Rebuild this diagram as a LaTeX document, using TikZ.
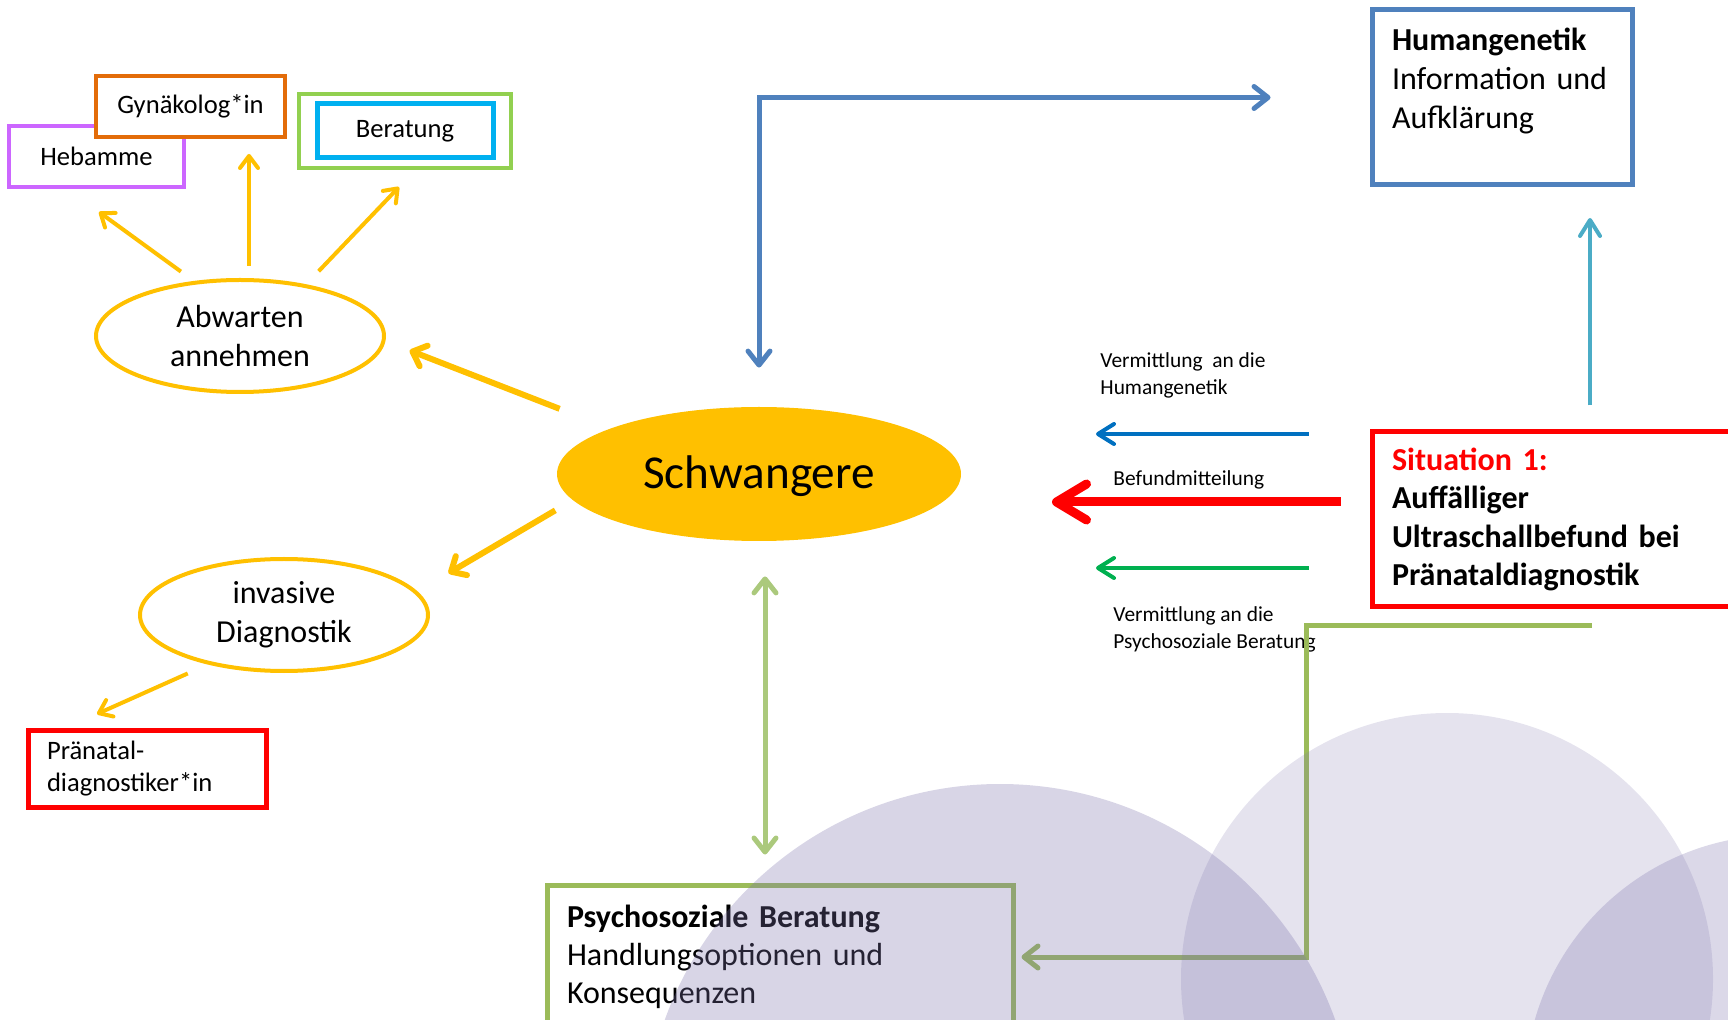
\documentclass[tikz,border=0pt]{standalone}
\usepackage{fontspec}
\setmainfont{Carlito}
\usetikzlibrary{arrows.meta,shapes.geometric}

\definecolor{gold}{HTML}{FFC000}
\definecolor{hebpurple}{HTML}{CC66FF}
\definecolor{gynorange}{HTML}{E36C09}
\definecolor{bergreen}{HTML}{92D050}
\definecolor{berblue}{HTML}{00B0F0}
\definecolor{pdred}{HTML}{FF0000}
\definecolor{humblue}{HTML}{4F81BD}
\definecolor{upteal}{HTML}{4BACC6}
\definecolor{vblue}{HTML}{0070C0}
\definecolor{vgreen}{HTML}{00B050}
\definecolor{olive}{HTML}{9BBB59}
\definecolor{lightolive}{HTML}{ABC97C}
\definecolor{lav}{RGB}{125,115,172}

\begin{document}
\begin{tikzpicture}[x=0.5pt, y=-0.5pt,
    smallbox/.style={draw, rectangle, fill=white, line width=2pt, font=\fontsize{13.3}{16}\selectfont},
    bigbox/.style={draw, rectangle, line width=2.5pt, align=left, inner xsep=10pt, inner ysep=0pt,
        font=\fontsize{16}{19.5}\selectfont},
    oval/.style={draw=gold, ellipse, line width=2pt, align=center, inner sep=0pt,
        minimum width=144pt, minimum height=56pt, font=\fontsize{16}{19.3}\selectfont},
    lbl/.style={anchor=west, align=left, inner sep=0pt, font=\fontsize{10.7}{13.5}\selectfont},
    yarr/.style={draw=gold, line width=2pt, -{Straight Barb[length=6pt, width=9pt, round]}},
    yarrb/.style={draw=gold, line width=3pt, -{Straight Barb[length=6pt, width=11pt, round]}},
    harr/.style={line width=2pt, -{Straight Barb[length=8pt, width=10pt, round]}},
    ]

    \useasboundingbox (0,0) rectangle (1728,1020);

    % draw nodes
    \node [smallbox, draw=hebpurple, minimum width=87.5pt, minimum height=30.5pt]
        (heb) at (96.5,156.5) {Hebamme};
    \node [smallbox, draw=gynorange, minimum width=94.5pt, minimum height=30.5pt]
        (gyn) at (190.5,106.5) {Gynäkolog*in};
    \node [smallbox, draw=bergreen, minimum width=106pt, minimum height=37pt]
        (berout) at (405,131) {};
    \node [smallbox, draw=berblue, line width=2.5pt, minimum width=88pt, minimum height=27pt]
        (ber) at (405,131) {Beratung};
    \node [oval] (abw) at (240,336) {Abwarten\\annehmen};
    \node [oval] (inv) at (284,615) {invasive\\Diagnostik};
    \node [ellipse, fill=gold, minimum width=202pt, minimum height=67pt, inner sep=0pt,
        text height=19pt, text depth=4.7pt,
        font=\fontsize{23.6}{28}\selectfont] (schw) at (759,474) {Schwangere};
    \node [smallbox, draw=pdred, line width=2.5pt, align=left, inner xsep=9.5pt, text width=100pt,
        minimum height=38.5pt] (prae) at (147,768.5) {Pränatal-\\diagnostiker*in};
    \node [bigbox, draw=humblue, text width=110pt, minimum height=87.5pt]
        (hum) at (1502,97.5) {\textbf{Humangenetik}\\Information und\\Aufklärung\\~};
    \node [bigbox, draw=pdred, text width=174pt, minimum height=87.5pt, font=\bfseries\fontsize{16}{19.3}\selectfont]
        (sit) at (1566,519.5) {\textcolor{pdred}{Situation 1:}\\Auffälliger\\Ultraschallbefund bei\\Pränataldiagnostik};
    \node [bigbox, draw=olive, text width=213pt, minimum height=72pt, font=\fontsize{16}{19}\selectfont]
        (psy) at (780,957) {\textbf{Psychosoziale Beratung}\\Handlungsoptionen und\\Konsequenzen};

    % labels
    \node [lbl] (lhum) at (1100,375.5) {Vermittlung~ an die\\Humangenetik};
    \node [lbl] (lbef) at (1113,480) {Befundmitteilung};
    \node [lbl] (lpsy) at (1113,629.5) {Vermittlung an die\\Psychosoziale Beratung};

    % free arrow ends
    \foreach \n/\x/\y in {tHeb/99/212, tGyn/249/154, tBer/399/187, tPrae/97/714, tUp/1590/218,
        tBlue/1096/434, tRed/1052/502, tGreen/1096/568, oStart/1592/626, oBend/1306/957}
        \coordinate (\n) at (\x,\y);

    % draw edges
    \foreach \a/\s/\t in {130/8/tHeb, 38/9/tBer}
        \draw [yarr, shorten <=\s pt] (abw.\a) -- (\t);
    \draw [yarr, shorten <=6pt] (abw.north -| tGyn) -- (tGyn);
    \draw [yarrb, shorten <=27pt, shorten >=13pt] (schw.163) -- (abw.-2);
    \draw [yarrb, shorten <=10pt, shorten >=18pt] (schw.188) -- (inv.10);
    \draw [yarr, shorten <=11pt] (inv.213) -- (tPrae);

    \draw [draw=humblue, line width=2.5pt,
        {Straight Barb[length=7pt, width=11pt, round]}-{Straight Barb[length=7pt, width=11pt, round]},
        shorten <=49.5pt, shorten >=19.5pt] (hum.west) -| (schw.north);
    \draw [harr, draw=upteal, shorten <=12pt] (sit.north -| tUp) -- (tUp);
    \foreach \t/\c in {tBlue/vblue, tGreen/vgreen}
        \draw [harr, draw=\c, shorten <=30.5pt] (sit.west |- \t) -- (\t);
    \draw [draw=pdred, line width=4.5pt, -{Straight Barb[length=15pt, width=18pt, round]},
        shorten <=14.5pt] (sit.west |- tRed) -- (tRed);
    \draw [draw=olive, line width=2.5pt, -{Straight Barb[length=7pt, width=11pt, round]},
        shorten >=3pt] (oStart) -| (oBend) -- (psy.east);
    \draw [draw=lightolive, line width=2.5pt,
        {Straight Barb[length=7pt, width=11pt, round]}-{Straight Barb[length=7pt, width=11pt, round]},
        shorten <=17.5pt, shorten >=14pt] ([xshift=3pt]schw.south) -- ([xshift=3pt]schw.south |- psy.north);

    % background circles
    \fill [lav, opacity=0.3] (1000,1140) circle [radius=356];
    \fill [lav, opacity=0.2] (1447,979) circle [radius=266];
    \fill [lav, opacity=0.28] (1780,1090) circle [radius=255];

\end{tikzpicture}
\end{document}
